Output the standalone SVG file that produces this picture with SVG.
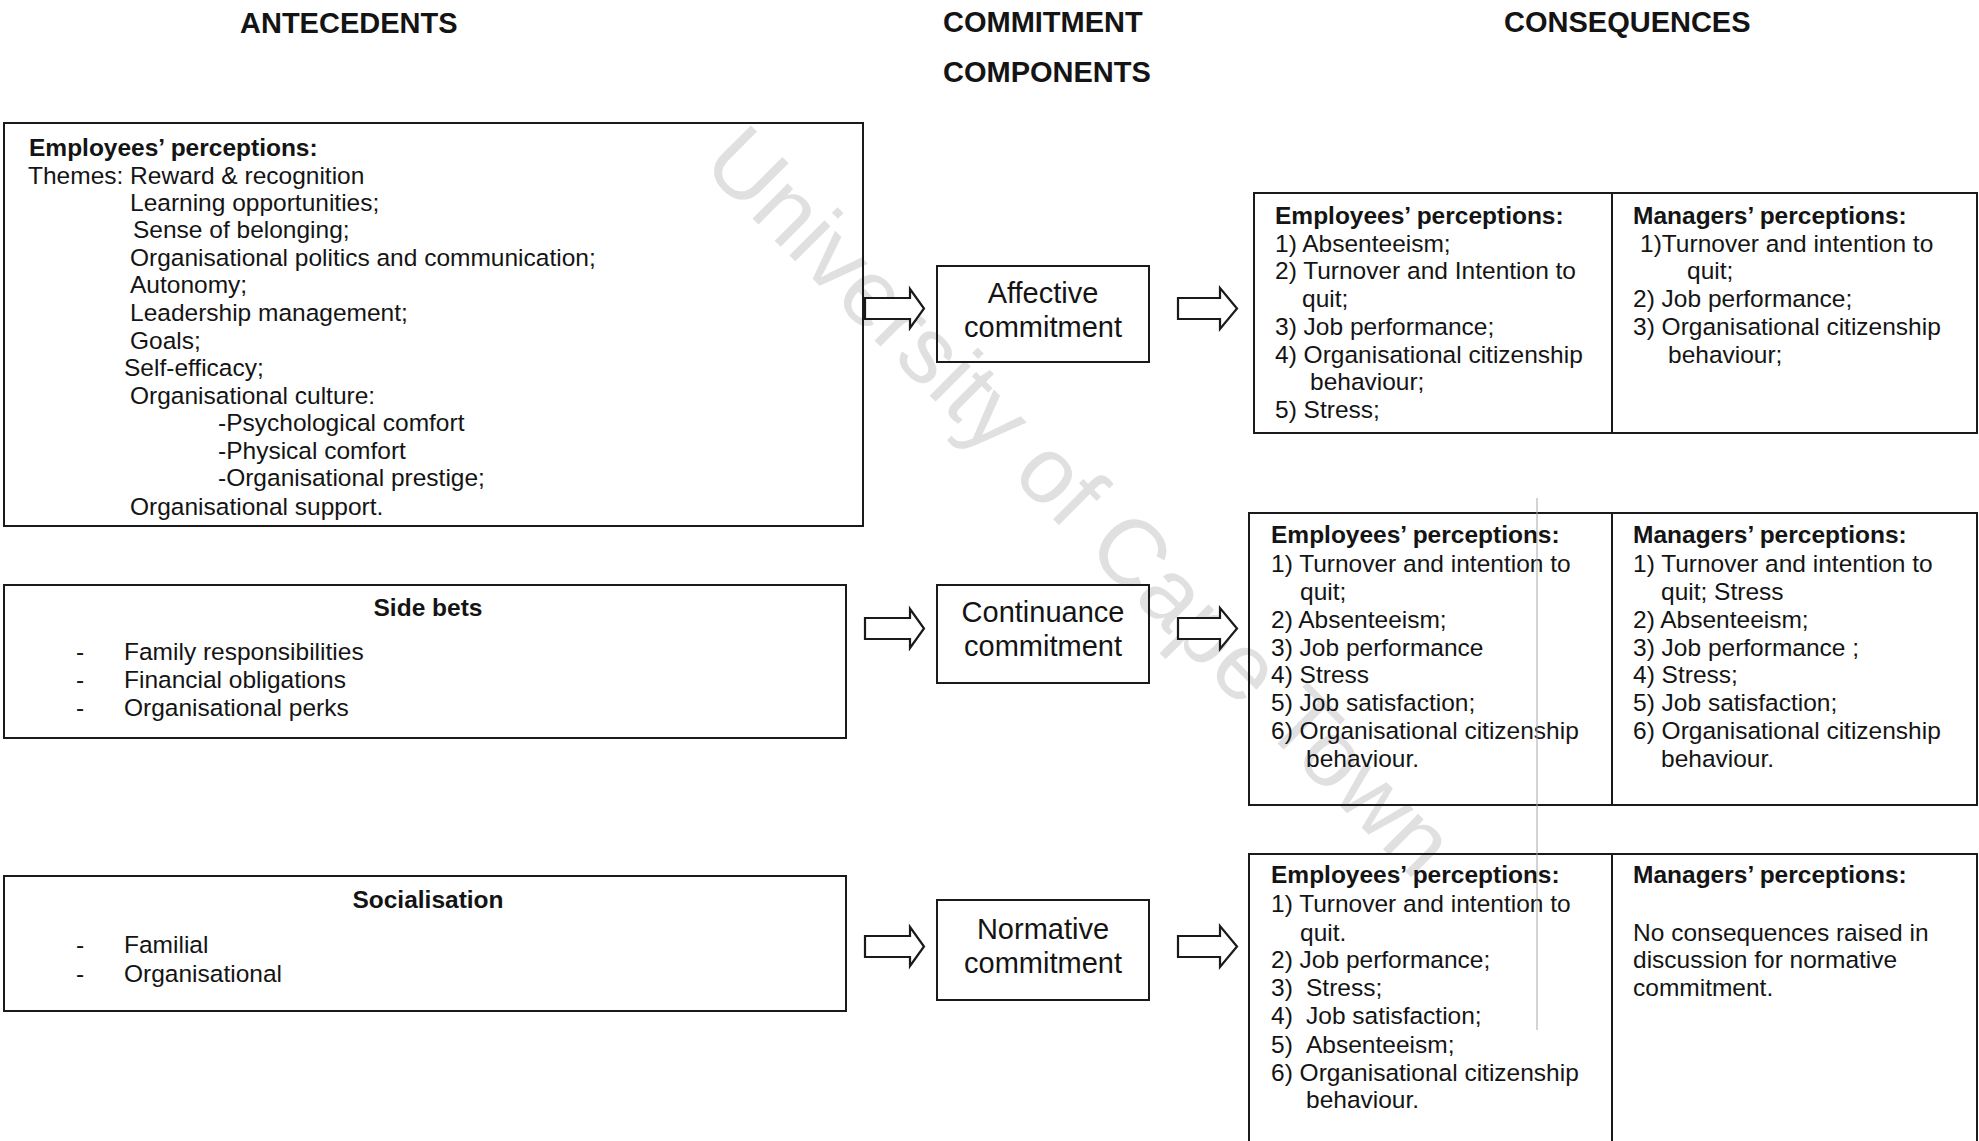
<svg xmlns="http://www.w3.org/2000/svg" width="1979" height="1141" viewBox="0 0 1979 1141">
  <style>
    text { font-family: "Liberation Sans", Arial, sans-serif; fill: #141414; }
    .hdr { font-size: 29px; font-weight: bold; }
    .t { font-size: 24.5px; }
    .b { font-size: 24.5px; font-weight: bold; }
    .c { font-size: 29px; text-anchor: middle; }
    .mid { text-anchor: middle; }
    .box { fill: none; stroke: #1a1a1a; stroke-width: 2; }
    .arrow { fill: #ffffff; stroke: #1a1a1a; stroke-width: 2.2; stroke-linejoin: miter; }
    .wm { font-size: 94px; fill: #e0e0e0; }
  </style>
  <defs>
    <clipPath id="clipA1"><rect x="0" y="120" width="870" height="402"/></clipPath>
  </defs>
  <rect width="1979" height="1141" fill="#ffffff"/>

  <g id="watermark">
    <text class="wm" transform="translate(700,166) rotate(45)">University of Cape Town</text>
  </g>

  <g id="headers">
    <text class="hdr" x="240" y="33">ANTECEDENTS</text>
    <text class="hdr" x="943" y="32">COMMITMENT</text>
    <text class="hdr" x="943" y="82">COMPONENTS</text>
    <text class="hdr" x="1504" y="32">CONSEQUENCES</text>
  </g>

  <g id="antecedent-employees">
    <rect class="box" x="4" y="123" width="859" height="403"/>
    <g clip-path="url(#clipA1)">
      <text class="b" x="29" y="156">Employees’ perceptions:</text>
      <text class="t" x="28" y="184">Themes: Reward &amp; recognition</text>
      <text class="t" x="130" y="211">Learning opportunities;</text>
      <text class="t" x="133" y="238">Sense of belonging;</text>
      <text class="t" x="130" y="266">Organisational politics and communication;</text>
      <text class="t" x="130" y="293">Autonomy;</text>
      <text class="t" x="130" y="321">Leadership management;</text>
      <text class="t" x="130" y="349">Goals;</text>
      <text class="t" x="124" y="376">Self-efficacy;</text>
      <text class="t" x="130" y="404">Organisational culture:</text>
      <text class="t" x="218" y="431">-Psychological comfort</text>
      <text class="t" x="218" y="459">-Physical comfort</text>
      <text class="t" x="218" y="486">-Organisational prestige;</text>
      <text class="t" x="130" y="515">Organisational support.</text>
    </g>
  </g>

  <g id="antecedent-sidebets">
    <rect class="box" x="4" y="585" width="842" height="153"/>
    <text class="b mid" x="428" y="616">Side bets</text>
    <text class="t" x="76" y="660">-</text>
    <text class="t" x="124" y="660">Family responsibilities</text>
    <text class="t" x="76" y="688">-</text>
    <text class="t" x="124" y="688">Financial obligations</text>
    <text class="t" x="76" y="716">-</text>
    <text class="t" x="124" y="716">Organisational perks</text>
  </g>

  <g id="antecedent-socialisation">
    <rect class="box" x="4" y="876" width="842" height="135"/>
    <text class="b mid" x="428" y="908">Socialisation</text>
    <text class="t" x="76" y="953">-</text>
    <text class="t" x="124" y="953">Familial</text>
    <text class="t" x="76" y="982">-</text>
    <text class="t" x="124" y="982">Organisational</text>
  </g>

  <g id="affective">
    <rect class="box" x="937" y="266" width="212" height="96"/>
    <text class="c" x="1043" y="303">Affective</text>
    <text class="c" x="1043" y="337">commitment</text>
  </g>

  <g id="continuance">
    <rect class="box" x="937" y="585" width="212" height="98"/>
    <text class="c" x="1043" y="622">Continuance</text>
    <text class="c" x="1043" y="656">commitment</text>
  </g>

  <g id="normative">
    <rect class="box" x="937" y="900" width="212" height="100"/>
    <text class="c" x="1043" y="939">Normative</text>
    <text class="c" x="1043" y="973">commitment</text>
  </g>

  <g id="consequences-affective">
    <rect class="box" x="1254" y="193" width="723" height="240"/>
    <line class="box" x1="1612" y1="193" x2="1612" y2="433"/>
    <text class="b" x="1275" y="224">Employees’ perceptions:</text>
    <text class="t" x="1275" y="252">1) Absenteeism;</text>
    <text class="t" x="1275" y="279">2) Turnover and Intention to</text>
    <text class="t" x="1302" y="307">quit;</text>
    <text class="t" x="1275" y="335">3) Job performance;</text>
    <text class="t" x="1275" y="363">4) Organisational citizenship</text>
    <text class="t" x="1310" y="390">behaviour;</text>
    <text class="t" x="1275" y="418">5) Stress;</text>
    <text class="b" x="1633" y="224">Managers’ perceptions:</text>
    <text class="t" x="1640" y="252">1)Turnover and intention to</text>
    <text class="t" x="1687" y="279">quit;</text>
    <text class="t" x="1633" y="307">2) Job performance;</text>
    <text class="t" x="1633" y="335">3) Organisational citizenship</text>
    <text class="t" x="1668" y="363">behaviour;</text>
  </g>

  <g id="consequences-continuance">
    <rect class="box" x="1249" y="513" width="728" height="292"/>
    <line class="box" x1="1612" y1="513" x2="1612" y2="805"/>
    <text class="b" x="1271" y="543">Employees’ perceptions:</text>
    <text class="t" x="1271" y="572">1) Turnover and intention to</text>
    <text class="t" x="1300" y="600">quit;</text>
    <text class="t" x="1271" y="628">2) Absenteeism;</text>
    <text class="t" x="1271" y="656">3) Job performance</text>
    <text class="t" x="1271" y="683">4) Stress</text>
    <text class="t" x="1271" y="711">5) Job satisfaction;</text>
    <text class="t" x="1271" y="739">6) Organisational citizenship</text>
    <text class="t" x="1306" y="767">behaviour.</text>
    <text class="b" x="1633" y="543">Managers’ perceptions:</text>
    <text class="t" x="1633" y="572">1) Turnover and intention to</text>
    <text class="t" x="1661" y="600">quit; Stress</text>
    <text class="t" x="1633" y="628">2) Absenteeism;</text>
    <text class="t" x="1633" y="656">3) Job performance ;</text>
    <text class="t" x="1633" y="683">4) Stress;</text>
    <text class="t" x="1633" y="711">5) Job satisfaction;</text>
    <text class="t" x="1633" y="739">6) Organisational citizenship</text>
    <text class="t" x="1661" y="767">behaviour.</text>
  </g>

  <g id="consequences-normative">
    <rect class="box" x="1249" y="854" width="728" height="300"/>
    <line class="box" x1="1612" y1="854" x2="1612" y2="1141"/>
    <text class="b" x="1271" y="883">Employees’ perceptions:</text>
    <text class="t" x="1271" y="912">1) Turnover and intention to</text>
    <text class="t" x="1300" y="941">quit.</text>
    <text class="t" x="1271" y="968">2) Job performance;</text>
    <text class="t" x="1271" y="996">3)</text>
    <text class="t" x="1306" y="996">Stress;</text>
    <text class="t" x="1271" y="1024">4)</text>
    <text class="t" x="1306" y="1024">Job satisfaction;</text>
    <text class="t" x="1271" y="1053">5)</text>
    <text class="t" x="1306" y="1053">Absenteeism;</text>
    <text class="t" x="1271" y="1081">6) Organisational citizenship</text>
    <text class="t" x="1306" y="1108">behaviour.</text>
    <text class="b" x="1633" y="883">Managers’ perceptions:</text>
    <text class="t" x="1633" y="941">No consequences raised in</text>
    <text class="t" x="1633" y="968">discussion for normative</text>
    <text class="t" x="1633" y="996">commitment.</text>
  </g>

  <g id="artifacts">
    <line x1="1537" y1="498" x2="1537" y2="1030" stroke="#a8a8a8" stroke-width="1"/>
  </g>

  <g id="connectors">
    <path class="arrow" d="M865,298 H910 V289 L924,308.5 L910,328 V319 H865 Z"/>
    <path class="arrow" d="M1178,298 H1220 V288 L1237,308.5 L1220,329 V319 H1178 Z"/>
    <path class="arrow" d="M865,618 H910 V609 L924,628.5 L910,648 V639 H865 Z"/>
    <path class="arrow" d="M1178,618 H1220 V608 L1237,628.5 L1220,649 V639 H1178 Z"/>
    <path class="arrow" d="M865,936 H910 V927 L924,946.5 L910,966 V957 H865 Z"/>
    <path class="arrow" d="M1178,936 H1220 V926 L1237,946.5 L1220,967 V957 H1178 Z"/>
  </g>
</svg>
